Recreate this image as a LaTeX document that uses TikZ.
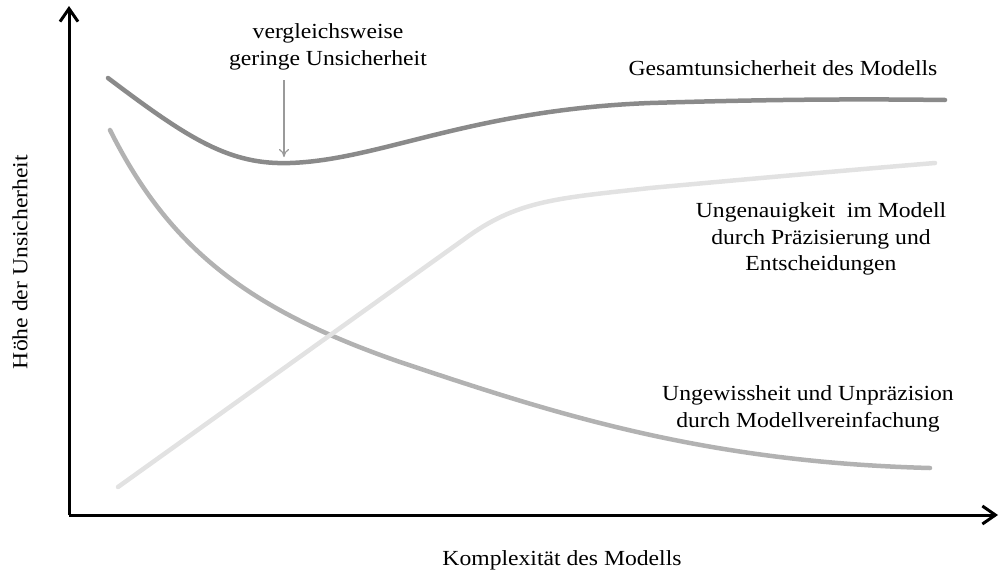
\documentclass[tikz,border=0pt]{standalone}
\usepackage{fontspec}
\setmainfont[FakeStretch=1.1]{Liberation Serif}
\usetikzlibrary{arrows.meta}
\definecolor{totalgray}{HTML}{8A8A8A}
\definecolor{simplgray}{HTML}{B2B2B2}
\definecolor{precgray}{HTML}{E2E2E2}
\definecolor{pointgray}{HTML}{9A9A9A}
\begin{document}
\begin{tikzpicture}[x=1pt,y=-1pt,
  axis/.style={line width=3pt,-{Straight Barb[length=13pt,width=18pt,line width=3pt]}},
  curve/.style={line width=4.5pt,line cap=round},
  lbl/.style={font=\fontsize{21.5}{26.5}\selectfont,align=center,inner sep=0pt},
  pointer/.style={draw=pointgray,line width=1.2pt,-{To[length=8pt,width=10pt]}}]
\useasboundingbox (0,0) rectangle (1000,573);
% axes
\coordinate (O) at (69,515);
\coordinate (ytop) at (69,6);
\coordinate (xend) at (998,515);
\draw[axis] (O) -- (ytop);
\draw[axis] (O) -- (xend);
% simplification uncertainty (falling)
\draw[curve,simplgray] (110,130)
  .. controls (170,250) and (250,310) .. (400,362)
  .. controls (550,412) and (700,462) .. (930,468);
% precision uncertainty (rising)
\draw[curve,precgray] (118,487) -- (470,235)
  .. controls (520,200) and (560,198) .. (650,188)
  .. controls (760,178) and (850,170) .. (935,163);
% total uncertainty
\draw[curve,totalgray] (108,78)
  .. controls (190,140) and (230,165) .. (290,163)
  .. controls (380,160) and (470,110) .. (650,103)
  .. controls (780,99) and (870,99) .. (945,100);
% labels
\node[lbl] (low) at (328,47) {vergleichsweise\\geringe Unsicherheit};
\coordinate (lowtail) at (284,80);
\coordinate (lowhead) at (284,157);
\draw[pointer] (lowtail) -- (lowhead);
\node[lbl] (total) at (783,68) {Gesamtunsicherheit des Modells};
\node[lbl] (prec) at (821,239) {Ungenauigkeit~~im Modell\\durch Präzisierung und\\Entscheidungen};
\node[lbl] (simpl) at (808,409) {Ungewissheit und Unpräzision\\durch Modellvereinfachung};
\node[lbl] (xlab) at (562,560) {Komplexität des Modells};
\node[lbl,rotate=90] (ylab) at (20,262) {Höhe der Unsicherheit};
\end{tikzpicture}
\end{document}
